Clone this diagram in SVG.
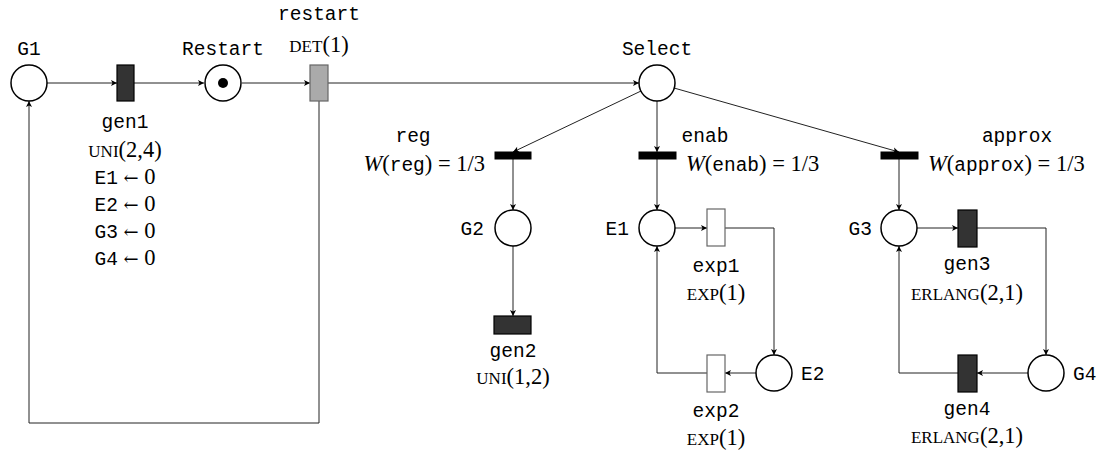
<svg xmlns="http://www.w3.org/2000/svg" width="1112" height="455" viewBox="0 0 1112 455">
<style>
.pl{fill:#fff;stroke:#000;stroke-width:1.5}
.td{fill:#333;stroke:#000;stroke-width:1.2}
.tg{fill:#aaa;stroke:#666;stroke-width:1.2}
.tw{fill:#fff;stroke:#666;stroke-width:1.2}
.tb{fill:#000;stroke:#000;stroke-width:1}
.c{fill:none;stroke:#222;stroke-width:1}
.m{font-family:"Liberation Mono","DejaVu Sans Mono",monospace;font-size:19.5px;fill:#000}
.s{font-family:"Liberation Serif","DejaVu Serif",serif;font-size:22.5px;fill:#000}
.sc{font-size:17px}
.i{font-style:italic}
.la{font-family:"DejaVu Serif",serif;font-size:18px}
.mid{text-anchor:middle}
.end{text-anchor:end}
</style>
<defs>
<marker id="ar" viewBox="-7 -4 8 8" refX="0" refY="0" markerWidth="8" markerHeight="8" markerUnits="userSpaceOnUse" orient="auto">
<path d="M-6,-3 L0,0 L-6,3 L-4.5,0 Z" fill="#000"/>
</marker>
</defs>
<g id="connectors" class="c">
<path d="M47,83 L117,83" marker-end="url(#ar)"/>
<path d="M134,83 L204,83" marker-end="url(#ar)"/>
<path d="M242,83 L310,83" marker-end="url(#ar)"/>
<path d="M328,83 L639,83" marker-end="url(#ar)"/>
<path d="M319,101 L319,423 L29,423 L29,101" marker-end="url(#ar)"/>
<path d="M641,91 L513,152" marker-end="url(#ar)"/>
<path d="M657,101 L657,152" marker-end="url(#ar)"/>
<path d="M674,88 L899,152" marker-end="url(#ar)"/>
<path d="M513,159 L513,210" marker-end="url(#ar)"/>
<path d="M657,159 L657,210" marker-end="url(#ar)"/>
<path d="M899,159 L899,210" marker-end="url(#ar)"/>
<path d="M513,246 L513,316" marker-end="url(#ar)"/>
<path d="M675,228 L707,228" marker-end="url(#ar)"/>
<path d="M725,228 L774,228 L774,355" marker-end="url(#ar)"/>
<path d="M756,373 L725,373" marker-end="url(#ar)"/>
<path d="M707,373 L657,373 L657,246" marker-end="url(#ar)"/>
<path d="M917,228 L958,228" marker-end="url(#ar)"/>
<path d="M977,228 L1046,228 L1046,355" marker-end="url(#ar)"/>
<path d="M1028,373 L977,373" marker-end="url(#ar)"/>
<path d="M958,373 L899,373 L899,246" marker-end="url(#ar)"/>
</g>
<g id="G1"><circle class="pl" cx="29" cy="83" r="18"/><text class="m mid" x="29" y="55">G1</text></g>
<g id="gen1"><rect class="td" x="117" y="65" width="17" height="36"/>
<text class="m mid" x="125" y="128">gen1</text>
<text class="s mid" x="125" y="157"><tspan class="sc">UNI</tspan>(2,4)</text>
<text class="s mid" x="125" y="184"><tspan class="m">E1</tspan> <tspan class="la">←</tspan> 0</text>
<text class="s mid" x="125" y="211"><tspan class="m">E2</tspan> <tspan class="la">←</tspan> 0</text>
<text class="s mid" x="125" y="238"><tspan class="m">G3</tspan> <tspan class="la">←</tspan> 0</text>
<text class="s mid" x="125" y="265"><tspan class="m">G4</tspan> <tspan class="la">←</tspan> 0</text>
</g>
<g id="Restart"><circle class="pl" cx="223" cy="83" r="18"/><circle cx="223" cy="83" r="5" fill="#000"/><text class="m mid" x="223" y="55">Restart</text></g>
<g id="restart"><rect class="tg" x="310" y="65" width="18" height="36"/>
<text class="m mid" x="319" y="20">restart</text>
<text class="s mid" x="319" y="52"><tspan class="sc">DET</tspan>(1)</text></g>
<g id="Select"><circle class="pl" cx="657" cy="83" r="18"/><text class="m mid" x="657" y="55">Select</text></g>
<g id="reg"><rect class="tb" x="495" y="152" width="36" height="7"/>
<text class="m mid" x="413" y="142">reg</text>
<text class="s end" x="485" y="171"><tspan class="i">W</tspan>(<tspan class="m">reg</tspan>) = 1/3</text></g>
<g id="enab"><rect class="tb" x="639" y="152" width="37" height="7"/>
<text class="m mid" x="705" y="142">enab</text>
<text class="s" x="686" y="171"><tspan class="i">W</tspan>(<tspan class="m">enab</tspan>) = 1/3</text></g>
<g id="approx"><rect class="tb" x="881" y="152" width="37" height="7"/>
<text class="m mid" x="1017" y="142">approx</text>
<text class="s" x="928" y="171"><tspan class="i">W</tspan>(<tspan class="m">approx</tspan>) = 1/3</text></g>
<g id="G2"><circle class="pl" cx="513" cy="228" r="18"/><text class="m end" x="484" y="235">G2</text></g>
<g id="gen2"><rect class="td" x="494" y="316" width="37" height="18"/>
<text class="m mid" x="513" y="357">gen2</text>
<text class="s mid" x="513" y="384"><tspan class="sc">UNI</tspan>(1,2)</text></g>
<g id="E1"><circle class="pl" cx="657" cy="228" r="18"/><text class="m end" x="629" y="235">E1</text></g>
<g id="exp1"><rect class="tw" x="707" y="209" width="18" height="37"/>
<text class="m mid" x="716" y="272">exp1</text>
<text class="s mid" x="716" y="300"><tspan class="sc">EXP</tspan>(1)</text></g>
<g id="E2"><circle class="pl" cx="774" cy="373" r="18"/><text class="m" x="801" y="380">E2</text></g>
<g id="exp2"><rect class="tw" x="707" y="355" width="18" height="37"/>
<text class="m mid" x="716" y="417">exp2</text>
<text class="s mid" x="716" y="445"><tspan class="sc">EXP</tspan>(1)</text></g>
<g id="G3"><circle class="pl" cx="899" cy="228" r="18"/><text class="m end" x="872" y="235">G3</text></g>
<g id="gen3"><rect class="td" x="958" y="210" width="19" height="37"/>
<text class="m mid" x="967" y="270">gen3</text>
<text class="s mid" x="967" y="300"><tspan class="sc">ERLANG</tspan>(2,1)</text></g>
<g id="G4"><circle class="pl" cx="1046" cy="373" r="18"/><text class="m" x="1073" y="380">G4</text></g>
<g id="gen4"><rect class="td" x="958" y="355" width="19" height="37"/>
<text class="m mid" x="967" y="415">gen4</text>
<text class="s mid" x="967" y="443"><tspan class="sc">ERLANG</tspan>(2,1)</text></g>
</svg>
